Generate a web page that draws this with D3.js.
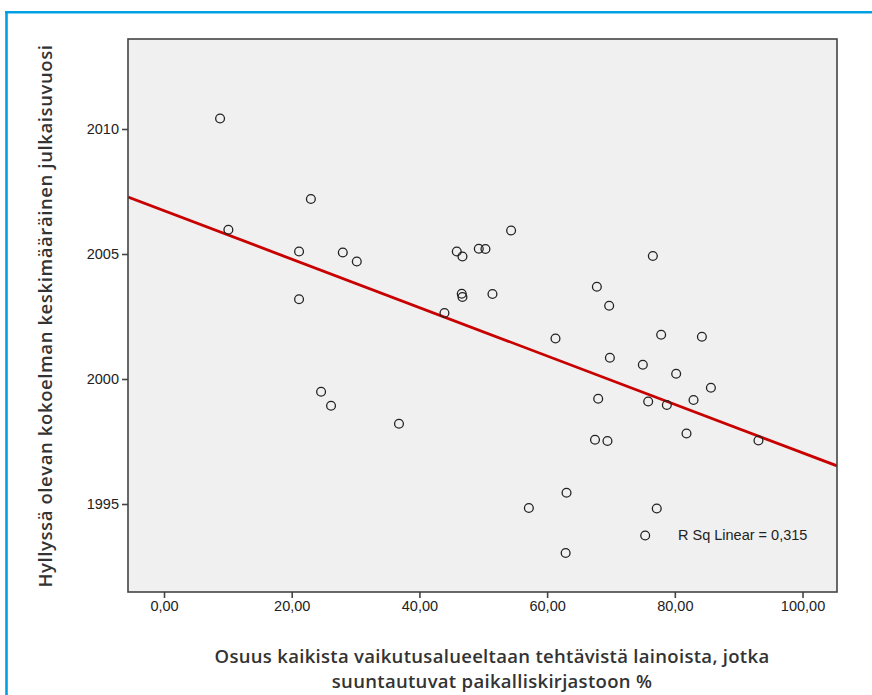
<!DOCTYPE html>
<html>
<head>
<meta charset="utf-8">
<script src="https://cdn.jsdelivr.net/npm/d3@7"></script>
<style>
  html, body { margin: 0; padding: 0; background: #fff; }
  svg { display: block; }
</style>
</head>
<body>
<svg id="chart" width="872" height="695"></svg>
<script>
// ---- data ----
const shareLocal = [
  8.78, 10.08, 21.15, 23.0, 28.0, 30.19, 21.15,
  24.6, 26.16, 36.8,
  54.36, 45.85, 46.74, 49.3, 50.34, 76.56, 46.63, 46.74, 51.44, 67.79,
  69.72, 43.92, 61.31, 77.86, 84.24, 69.83, 74.99, 80.21, 85.65, 68.0,
  75.83, 78.75, 82.93,
  67.5, 69.45, 81.83, 93.1,
  57.14, 63.04, 77.17, 75.36, 62.9
];
const meanYear = [
  2010.42, 2005.97, 2005.1, 2007.2, 2005.06, 2004.7, 2003.19,
  1999.49, 1998.93, 1998.21,
  2005.94, 2005.1, 2004.9, 2005.21, 2005.2, 2004.92, 2003.41, 2003.28, 2003.4, 2003.69,
  2002.93, 2002.64, 2001.62, 2001.77, 2001.69, 2000.85, 2000.57, 2000.21, 1999.65, 1999.21,
  1999.1, 1998.96, 1999.16,
  1997.57, 1997.52, 1997.82, 1997.54,
  1994.84, 1995.45, 1994.82, 1993.74, 1993.04
];
const fitIntercept = 2006.73;
const fitSlope = -0.0968;
const rSquaredText = "R Sq Linear = 0,315";
const xTicks = [0, 20, 40, 60, 80, 100];
const yTicks = [1995, 2000, 2005, 2010];
const xDomain = [-5.64, 105.4];
const yDomain = [1991.48, 2013.6];
const xTitleLines = ["Osuus kaikista vaikutusalueeltaan tehtävistä lainoista, jotka",
                     "suuntautuvat paikalliskirjastoon %"];
const yTitle = "Hyllyssä olevan kokoelman keskimääräinen julkaisuvuosi";

// ---- layout ----
const svg = d3.select("#chart");
const plot = { left: 128, top: 39, right: 837, bottom: 592 };

const x = d3.scaleLinear().domain(xDomain).range([plot.left, plot.right]);
const y = d3.scaleLinear().domain(yDomain).range([plot.bottom, plot.top]);

const fi = d3.formatLocale({ decimal: ",", thousands: "\u00a0", grouping: [3], currency: ["", "€"] });
const fmtX = fi.format(".2f");

// blue frame
svg.append("line").attr("x1", 5).attr("x2", 872).attr("y1", 12.2).attr("y2", 12.2)
  .attr("stroke", "#00a0e3").attr("stroke-width", 2.6);
svg.append("line").attr("x1", 6.5).attr("x2", 6.5).attr("y1", 11).attr("y2", 695)
  .attr("stroke", "#00a0e3").attr("stroke-width", 2.6);

// plot background
svg.append("rect")
  .attr("x", plot.left).attr("y", plot.top)
  .attr("width", plot.right - plot.left).attr("height", plot.bottom - plot.top)
  .attr("fill", "#f0f0f0");

svg.append("clipPath").attr("id", "clip").append("rect")
  .attr("x", plot.left).attr("y", plot.top)
  .attr("width", plot.right - plot.left).attr("height", plot.bottom - plot.top);

// regression line
svg.append("line")
  .attr("clip-path", "url(#clip)")
  .attr("x1", x(xDomain[0])).attr("y1", y(fitIntercept + fitSlope * xDomain[0]))
  .attr("x2", x(xDomain[1])).attr("y2", y(fitIntercept + fitSlope * xDomain[1]))
  .attr("stroke", "#c80000").attr("stroke-width", 2.8);

// points
const pts = shareLocal.map((v, i) => ({ x: v, y: meanYear[i] }));
svg.append("g").selectAll("circle").data(pts).join("circle")
  .attr("cx", d => x(d.x)).attr("cy", d => y(d.y)).attr("r", 4.4)
  .attr("fill", "none").attr("stroke", "#222").attr("stroke-width", 1.3);

// plot frame
svg.append("rect")
  .attr("x", plot.left).attr("y", plot.top)
  .attr("width", plot.right - plot.left).attr("height", plot.bottom - plot.top)
  .attr("fill", "none").attr("stroke", "#444").attr("stroke-width", 1.6);

// axes
const tickFont = "'Liberation Sans', Arial, sans-serif";
const xAxis = d3.axisBottom(x).tickValues(xTicks).tickFormat(fmtX).tickSize(6).tickPadding(3);
const gx = svg.append("g").attr("transform", `translate(0,${plot.bottom})`).call(xAxis);
gx.select(".domain").remove();
gx.selectAll(".tick line").attr("stroke", "#444").attr("stroke-width", 1.6);
gx.selectAll(".tick text").attr("fill", "#222")
  .style("font-family", tickFont).style("font-size", "14.5px");

const yAxis = d3.axisLeft(y).tickValues(yTicks).tickFormat(d3.format("d")).tickSize(6).tickPadding(3);
const gy = svg.append("g").attr("transform", `translate(${plot.left},0)`).call(yAxis);
gy.select(".domain").remove();
gy.selectAll(".tick line").attr("stroke", "#444").attr("stroke-width", 1.6);
gy.selectAll(".tick text").attr("fill", "#222")
  .style("font-family", tickFont).style("font-size", "14.5px");

// R squared annotation
svg.append("text").attr("x", 678).attr("y", 540)
  .attr("fill", "#222")
  .style("font-family", tickFont).style("font-size", "14.5px")
  .text(rSquaredText);

// axis titles
const titleFont = "'Open Sans', 'Noto Sans', sans-serif";
const xt = svg.append("text").attr("text-anchor", "middle")
  .attr("fill", "#333").style("font-family", titleFont).style("font-weight", 600)
  .style("font-size", "18.5px").style("letter-spacing", "0.3px");
xTitleLines.forEach((t, i) => {
  xt.append("tspan").attr("x", 492).attr("y", 663 + i * 25).text(t);
});

svg.append("text")
  .attr("transform", "translate(52,316) rotate(-90)")
  .attr("text-anchor", "middle")
  .attr("fill", "#333").style("font-family", titleFont).style("font-weight", 600)
  .style("font-size", "18.5px").style("letter-spacing", "0.6px")
  .text(yTitle);
</script>
</body>
</html>
